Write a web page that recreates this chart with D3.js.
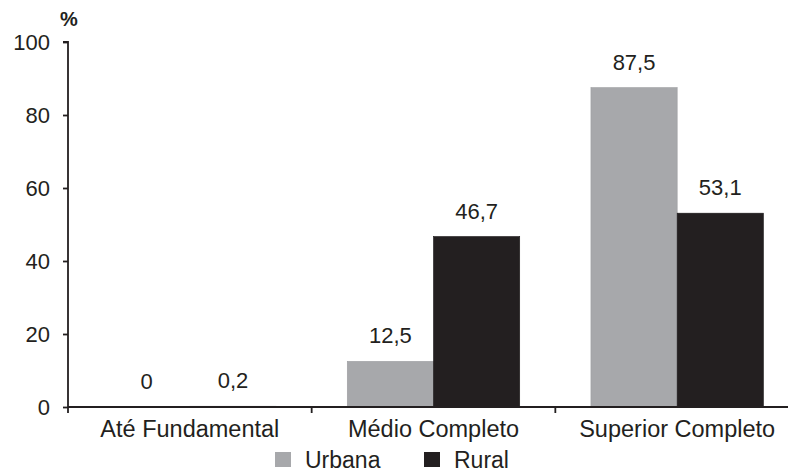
<!DOCTYPE html>
<html>
<head>
<meta charset="utf-8">
<script src="https://cdn.jsdelivr.net/npm/d3@7/dist/d3.min.js"></script>
<style>
  html, body { margin: 0; padding: 0; background: #fff; }
  svg { display: block; font-family: "Liberation Sans", Arial, sans-serif; }
</style>
</head>
<body>
<svg id="chart" width="788" height="473"></svg>
<script>
// Escolaridade por área de residência (%)
const categories = ["Até Fundamental", "Médio Completo", "Superior Completo"];
const seriesNames = ["Urbana", "Rural"];
const urbana = [0, 12.5, 87.5];
const rural = [0.2, 46.7, 53.1];
const valueLabels = { Urbana: ["0", "12,5", "87,5"], Rural: ["0,2", "46,7", "53,1"] };
const yTicks = [0, 20, 40, 60, 80, 100];

const colors = { Urbana: "#a7a8ab", Rural: "#231f20" };
const ink = "#231f20";
const fontFamily = "Liberation Sans, Arial, sans-serif";
const fontSize = 22;

const svg = d3.select("#chart");
const plotLeft = 68, plotRight = 799, plotTop = 42, plotBottom = 407;

const x = d3.scaleBand().domain(categories).range([plotLeft, plotRight]).paddingInner(0).paddingOuter(0);
const xInner = d3.scaleBand().domain(seriesNames).range([0, x.bandwidth()]).paddingOuter(0.413).paddingInner(0);
const y = d3.scaleLinear().domain([0, 100]).range([plotBottom, plotTop]);

const rows = categories.map((c, i) => ({ cat: c, i, values: [
  { key: "Urbana", v: urbana[i] }, { key: "Rural", v: rural[i] }
]}));

// bars
const groups = svg.append("g").selectAll("g").data(rows).join("g")
  .attr("transform", d => `translate(${x(d.cat)},0)`);

groups.selectAll("rect").data(d => d.values.map(v => ({ ...v, i: d.i }))).join("rect")
  .attr("x", d => xInner(d.key))
  .attr("width", xInner.bandwidth())
  .attr("y", d => y(d.v))
  .attr("height", d => y(0) - y(d.v))
  .attr("fill", d => colors[d.key])
  .attr("stroke", d => d.key === "Urbana" ? "#9c9da0" : "#1a1718")
  .attr("stroke-width", 0.6);

// value labels
groups.selectAll("text.val").data(d => d.values.map(v => ({ ...v, i: d.i }))).join("text")
  .attr("class", "val")
  .attr("x", d => xInner(d.key) + xInner.bandwidth() / 2)
  .attr("y", d => y(d.v) - 18)
  .attr("text-anchor", "middle")
  .attr("font-size", fontSize)
  .attr("fill", ink)
  .text(d => valueLabels[d.key][d.i]);

// y axis
const yAxis = svg.append("g").attr("transform", `translate(${plotLeft},0)`)
  .call(d3.axisLeft(y).tickValues(yTicks).tickSize(5).tickPadding(13).tickFormat(d3.format("d")));
yAxis.select(".domain").attr("d", `M-5,${plotTop}H0V${plotBottom}`).attr("stroke", ink).attr("stroke-width", 1.8);
yAxis.selectAll(".tick line").attr("stroke", ink).attr("stroke-width", 1.8);
yAxis.selectAll(".tick text").attr("font-size", fontSize).attr("fill", ink).attr("font-family", fontFamily);

// x axis with boundary ticks between categories
const xAxis = svg.append("g").attr("transform", `translate(0,${plotBottom})`)
  .call(d3.axisBottom(x).tickSize(0).tickPadding(13));
xAxis.select(".domain").attr("d", `M${plotLeft},0H${plotRight}`).attr("stroke", ink).attr("stroke-width", 1.8);
xAxis.selectAll(".tick text").attr("font-size", 23.5).attr("fill", ink).attr("font-family", fontFamily);
xAxis.selectAll("line.sep").data(categories).join("line").attr("class", "sep")
  .attr("x1", d => x(d)).attr("x2", d => x(d)).attr("y1", 0).attr("y2", 6)
  .attr("stroke", ink).attr("stroke-width", 1.8);

// unit label
svg.append("text").attr("x", 69).attr("y", 26).attr("text-anchor", "middle")
  .attr("font-size", 20).attr("font-weight", "bold").attr("fill", ink).text("%");

// legend
const legendPos = [{ key: "Urbana", x: 275 }, { key: "Rural", x: 424 }];
const legend = svg.append("g").selectAll("g").data(legendPos).join("g")
  .attr("transform", d => `translate(${d.x},452)`);
legend.append("rect").attr("width", 16).attr("height", 15).attr("fill", d => colors[d.key]);
legend.append("text").attr("x", 30).attr("y", 15.5).attr("font-size", 23).attr("fill", ink).text(d => d.key);
</script>
</body>
</html>
